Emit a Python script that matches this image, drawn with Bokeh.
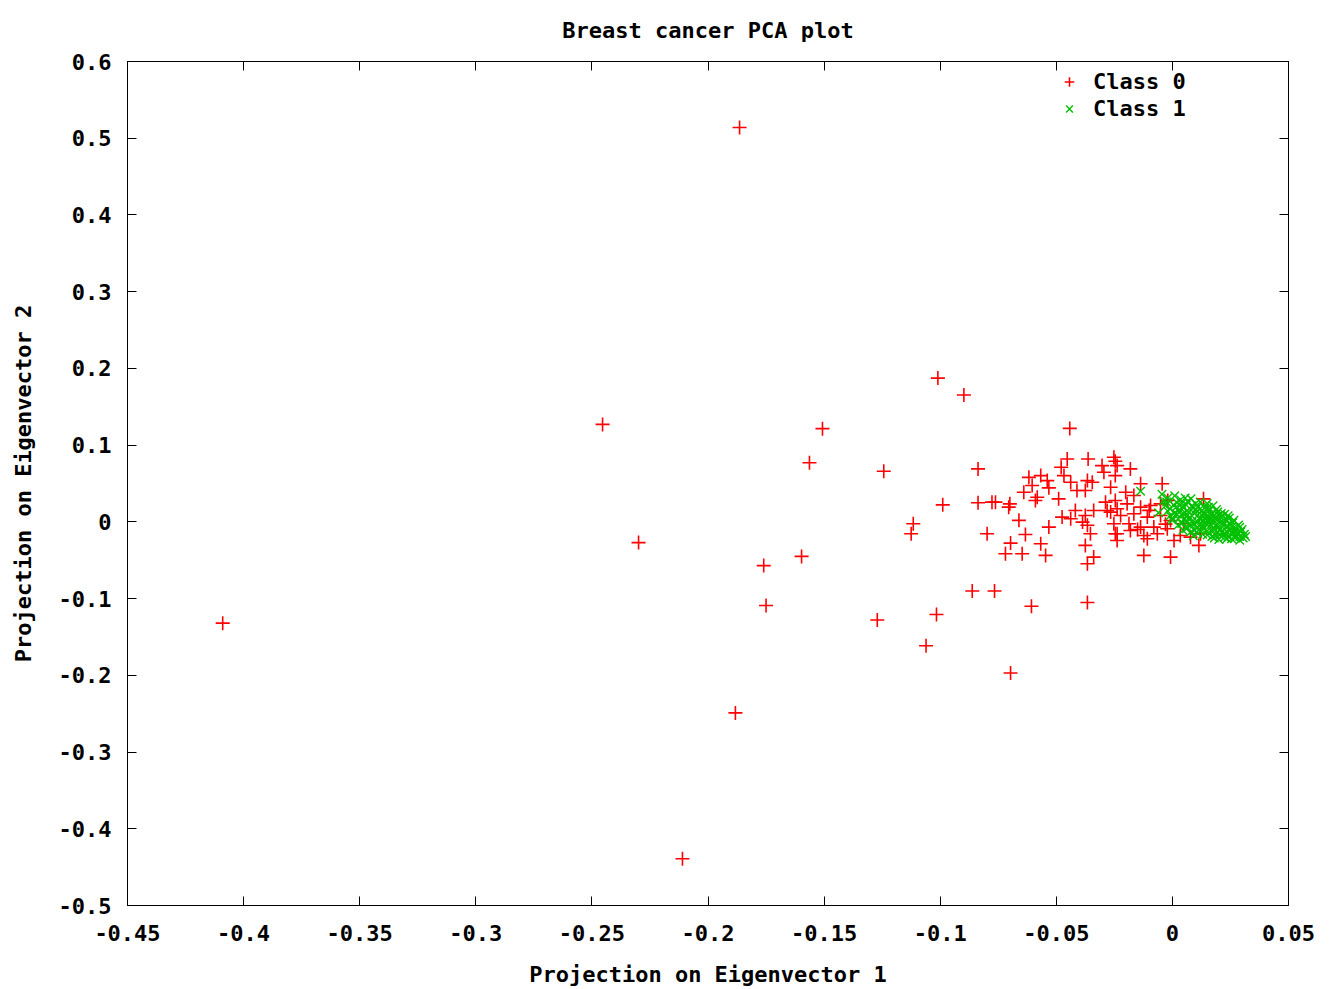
from bokeh.plotting import figure
from bokeh.models import Range1d, LinearAxis, FixedTicker, CustomJSTickFormatter, Legend, LegendItem
from bokeh.embed import file_html
from bokeh.resources import INLINE

title_text = "Breast cancer PCA plot"
x_label = "Projection on Eigenvector 1"
y_label = "Projection on Eigenvector 2"
x_ticks = [-0.45, -0.4, -0.35, -0.3, -0.25, -0.2, -0.15, -0.1, -0.05, 0, 0.05]
y_ticks = [-0.5, -0.4, -0.3, -0.2, -0.1, 0, 0.1, 0.2, 0.3, 0.4, 0.5, 0.6]
series_names = ["Class 0", "Class 1"]

class0_x = [
    -0.1864, -0.409, -0.2454, -0.2299, -0.211, -0.1882, -0.176, -0.175, -0.1597, -0.1563,
    -0.1507, -0.1271, -0.1243, -0.101, -0.0898, -0.0837, -0.0989, -0.0837, -0.0777, -0.0762,
    -0.1116, -0.1125, -0.0798, -0.0862, -0.0766, -0.1016, -0.1061, -0.0697, -0.0607, -0.0366,
    -0.0442, -0.0453, -0.0363, -0.0303, -0.0246, -0.0479, -0.0618, -0.0567, -0.0539, -0.0467,
    -0.0438, -0.0366, -0.0345, -0.0295, -0.0266, -0.0604, -0.0532, -0.0640, -0.0582, -0.0590,
    -0.0490, -0.0411, -0.0375, -0.0700, -0.0705, -0.0475, -0.0418, -0.0375, -0.0339, -0.0281,
    -0.0238, -0.0438, -0.0387, -0.0366, -0.0661, -0.0532, -0.0633, -0.0697, -0.0719, -0.0647,
    -0.0567, -0.0546, -0.0353, -0.0375, -0.0339, -0.0366, -0.0246, -0.0252, -0.0238, -0.0181,
    -0.0246, -0.0044, -0.0137, -0.0201, -0.0166, -0.0288, -0.0246, -0.0195, -0.0137, -0.0094,
    -0.0051, -0.0266, -0.0223, -0.0166, -0.0108, -0.0051, -0.0008, -0.0252, -0.0187, -0.0137,
    -0.0080, -0.0022, -0.0238, -0.0123, -0.0065, 0.0034, 0.0078, 0.0121, -0.0108, 0.0007,
    0.0114, -0.0123, -0.0008, -0.0238, -0.0181, 0.0048, 0.0134, -0.0150, -0.0100, -0.0030,
    -0.0020,
]
class0_y = [
    0.514, -0.132, 0.127, -0.027, -0.439, -0.249, -0.057, -0.109, -0.045, 0.077,
    0.1215, -0.128, 0.066, 0.1874, 0.1653, 0.069, 0.0222, 0.0249, 0.0257, 0.0257,
    -0.0025, -0.0155, -0.0155, -0.0901, -0.0901, -0.1208, -0.1614, -0.197, -0.110, -0.105,
    0.1218, 0.082, 0.082, 0.0733, 0.079, 0.0711, 0.058, 0.0603, 0.0538, 0.0603,
    0.0517, 0.0538, 0.0517, 0.0647, 0.0452, 0.0474, 0.0443, 0.0386, 0.0321, 0.0278,
    0.0300, 0.0408, 0.0408, 0.0235, 0.0192, 0.0062, 0.0148, 0.0083, 0.0148, 0.0148,
    0.0170, 0.0040, -0.0003, -0.0045, 0.0020, -0.0068, -0.0164, -0.0277, -0.0415, -0.0415,
    -0.0285, -0.0437, -0.0155, -0.0307, -0.0459, -0.0545, -0.0155, 0.0842, 0.0733, 0.0690,
    0.0603, 0.0496, 0.0496, 0.0386, 0.0343, 0.0257, 0.0278, 0.0235, 0.0192, 0.0213,
    0.0235, 0.0127, 0.0083, 0.0105, 0.0062, 0.0083, 0.0018, -0.0025, -0.0025, -0.0068,
    -0.0068, -0.0090, -0.0155, -0.0177, -0.0155, -0.0177, -0.0199, -0.0155, -0.0220, -0.0242,
    -0.0307, -0.0437, -0.0459, -0.0242, -0.0112, -0.0025, 0.0300, -0.0100, 0.0150, -0.0030,
    0.0280,
]

class1_x = [
    -0.0137, -0.0045, -0.0020, 0.0010, 0.0035, -0.0040, 0.0020, 0.0065, 0.0100, -0.0030,
    0.0015, 0.0060, 0.0110, 0.0140, 0.0175, -0.0020, 0.0030, 0.0070, 0.0100, 0.0135,
    0.0160, 0.0195, 0.0225, -0.0010, 0.0040, 0.0075, 0.0110, 0.0145, 0.0180, 0.0210,
    0.0245, 0.0265, 0.0000, 0.0050, 0.0085, 0.0120, 0.0155, 0.0190, 0.0220, 0.0250,
    0.0285, 0.0025, 0.0060, 0.0095, 0.0130, 0.0165, 0.0200, 0.0235, 0.0270, 0.0300,
    0.0045, 0.0080, 0.0115, 0.0150, 0.0185, 0.0215, 0.0250, 0.0280, 0.0310, 0.0090,
    0.0130, 0.0170, 0.0205, 0.0240, 0.0275, 0.0305, 0.0200, 0.0255, 0.0290, 0.0055,
    0.0090, 0.0125, 0.0170, 0.0140, 0.0175, 0.0105, 0.0065, 0.0230, 0.0160, 0.0195,
    0.0225, 0.0080, 0.0040, -0.0060, 0.0010, 0.0150,
    0.0005, 0.0045, 0.0085, 0.0120, 0.0155, 0.0190, 0.0210, 0.0020, 0.0060, 0.0095,
    0.0130, 0.0165, 0.0200, 0.0240, 0.0025, 0.0070, 0.0105, 0.0140, 0.0175, 0.0210,
    0.0260, 0.0040, 0.0080, 0.0115, 0.0150, 0.0185, 0.0220, 0.0255, 0.0290, 0.0060,
    0.0095, 0.0135, 0.0170, 0.0205, 0.0235, 0.0265, 0.0295, 0.0110, 0.0150, 0.0185,
    0.0220, 0.0260, 0.0290, 0.0315, 0.0180, 0.0235, 0.0270, -0.0010, 0.0030, 0.0000,
    -0.0025, 0.0055, 0.0120, 0.0185, 0.0125,
]
class1_y = [
    0.040, 0.036, 0.031, 0.034, 0.029, 0.027, 0.025, 0.027, 0.024, 0.021,
    0.019, 0.022, 0.020, 0.018, 0.021, 0.014, 0.016, 0.013, 0.016, 0.012,
    0.015, 0.013, 0.010, 0.008, 0.009, 0.006, 0.009, 0.007, 0.009, 0.006,
    0.005, 0.002, 0.002, 0.003, 0.000, 0.003, 0.001, 0.002, -0.001, -0.002,
    -0.004, -0.004, -0.006, -0.003, -0.006, -0.004, -0.007, -0.005, -0.008, -0.010,
    -0.011, -0.013, -0.010, -0.012, -0.010, -0.013, -0.011, -0.014, -0.016, -0.018,
    -0.016, -0.019, -0.017, -0.019, -0.018, -0.021, -0.023, -0.022, -0.024, 0.012,
    0.018, 0.014, 0.011, -0.001, -0.008, -0.008, 0.000, 0.003, 0.005, -0.014,
    -0.020, 0.030, 0.024, 0.012, 0.012, 0.024,
    0.022, 0.019, 0.021, 0.017, 0.019, 0.016, 0.011, 0.010, 0.007, 0.011,
    0.008, 0.010, 0.008, 0.008, 0.004, 0.004, 0.001, 0.004, 0.003, 0.000,
    -0.001, -0.002, -0.004, -0.005, -0.003, -0.005, -0.004, -0.006, -0.007, -0.009,
    -0.011, -0.009, -0.012, -0.010, -0.013, -0.012, -0.013, -0.015, -0.017, -0.016,
    -0.016, -0.016, -0.019, -0.019, -0.021, -0.022, -0.021, 0.017, 0.013, 0.005,
    0.026, 0.031, 0.026, 0.005, -0.002,
]

FONT = "DejaVu Sans Mono"
FS = "22px"

p = figure(width=1331, height=989, output_backend="svg", toolbar_location=None,
           x_range=Range1d(-0.45, 0.05), y_range=Range1d(-0.5, 0.6),
           min_border_left=127, min_border_right=43, min_border_top=60, min_border_bottom=83,
           title=title_text)
p.title.align = "center"
p.title.text_font = FONT
p.title.text_font_style = "bold"
p.title.text_font_size = FS
p.title.text_color = "black"
p.title.standoff = 34
p.title.vertical_align = "top"
p.xgrid.visible = False
p.ygrid.visible = False
p.outline_line_color = "black"
p.outline_line_width = 1
p.background_fill_color = "white"
p.border_fill_color = "white"

fmt_code = "return String(Math.round(tick*100)/100);"

def style_axis(ax, show_labels):
    ax.major_tick_in = 9
    ax.major_tick_out = 0
    ax.minor_tick_in = 0
    ax.minor_tick_out = 0
    ax.axis_line_color = "black"
    ax.major_tick_line_color = "black"
    ax.major_label_text_font = FONT
    ax.major_label_text_font_style = "bold"
    ax.major_label_text_font_size = FS
    ax.major_label_text_color = "black"
    ax.axis_label_text_font = FONT
    ax.axis_label_text_font_style = "bold"
    ax.axis_label_text_font_size = FS
    ax.axis_label_text_color = "black"
    if show_labels:
        ax.formatter = CustomJSTickFormatter(code=fmt_code)
    else:
        ax.formatter = CustomJSTickFormatter(code="return '';")
        ax.major_label_text_font_size = "0px"
        ax.major_label_standoff = 0

xa = p.xaxis[0]
ya = p.yaxis[0]
xa.ticker = FixedTicker(ticks=x_ticks)
ya.ticker = FixedTicker(ticks=y_ticks)
style_axis(xa, True)
style_axis(ya, True)
xa.axis_label = x_label
ya.axis_label = y_label
xa.major_label_standoff = 19
ya.major_label_standoff = 16
xa.axis_label_standoff = 18
ya.axis_label_standoff = 20

top_ax = LinearAxis(ticker=FixedTicker(ticks=x_ticks))
right_ax = LinearAxis(ticker=FixedTicker(ticks=y_ticks))
style_axis(top_ax, False)
style_axis(right_ax, False)
p.add_layout(top_ax, "above")
p.add_layout(right_ax, "right")

r0 = p.scatter(class0_x, class0_y, marker="cross", size=14, line_color="#ff0000",
               line_width=1.6, fill_color=None)
r1 = p.scatter(class1_x, class1_y, marker="x", size=12, line_color="#00c000",
               line_width=1.4, fill_color=None)

legend = Legend(items=[LegendItem(label=series_names[0], renderers=[r0]),
                       LegendItem(label=series_names[1], renderers=[r1])],
                location=(930, 783))
legend.label_text_font = FONT
legend.label_text_font_style = "bold"
legend.label_text_font_size = FS
legend.label_text_color = "black"
legend.border_line_color = None
legend.background_fill_alpha = 0
legend.spacing = 0
legend.label_height = 27
legend.glyph_height = 27
legend.glyph_width = 24
legend.label_standoff = 12
legend.margin = 0
legend.padding = 4
p.add_layout(legend)

open("out.html", "w").write(file_html(p, INLINE))
